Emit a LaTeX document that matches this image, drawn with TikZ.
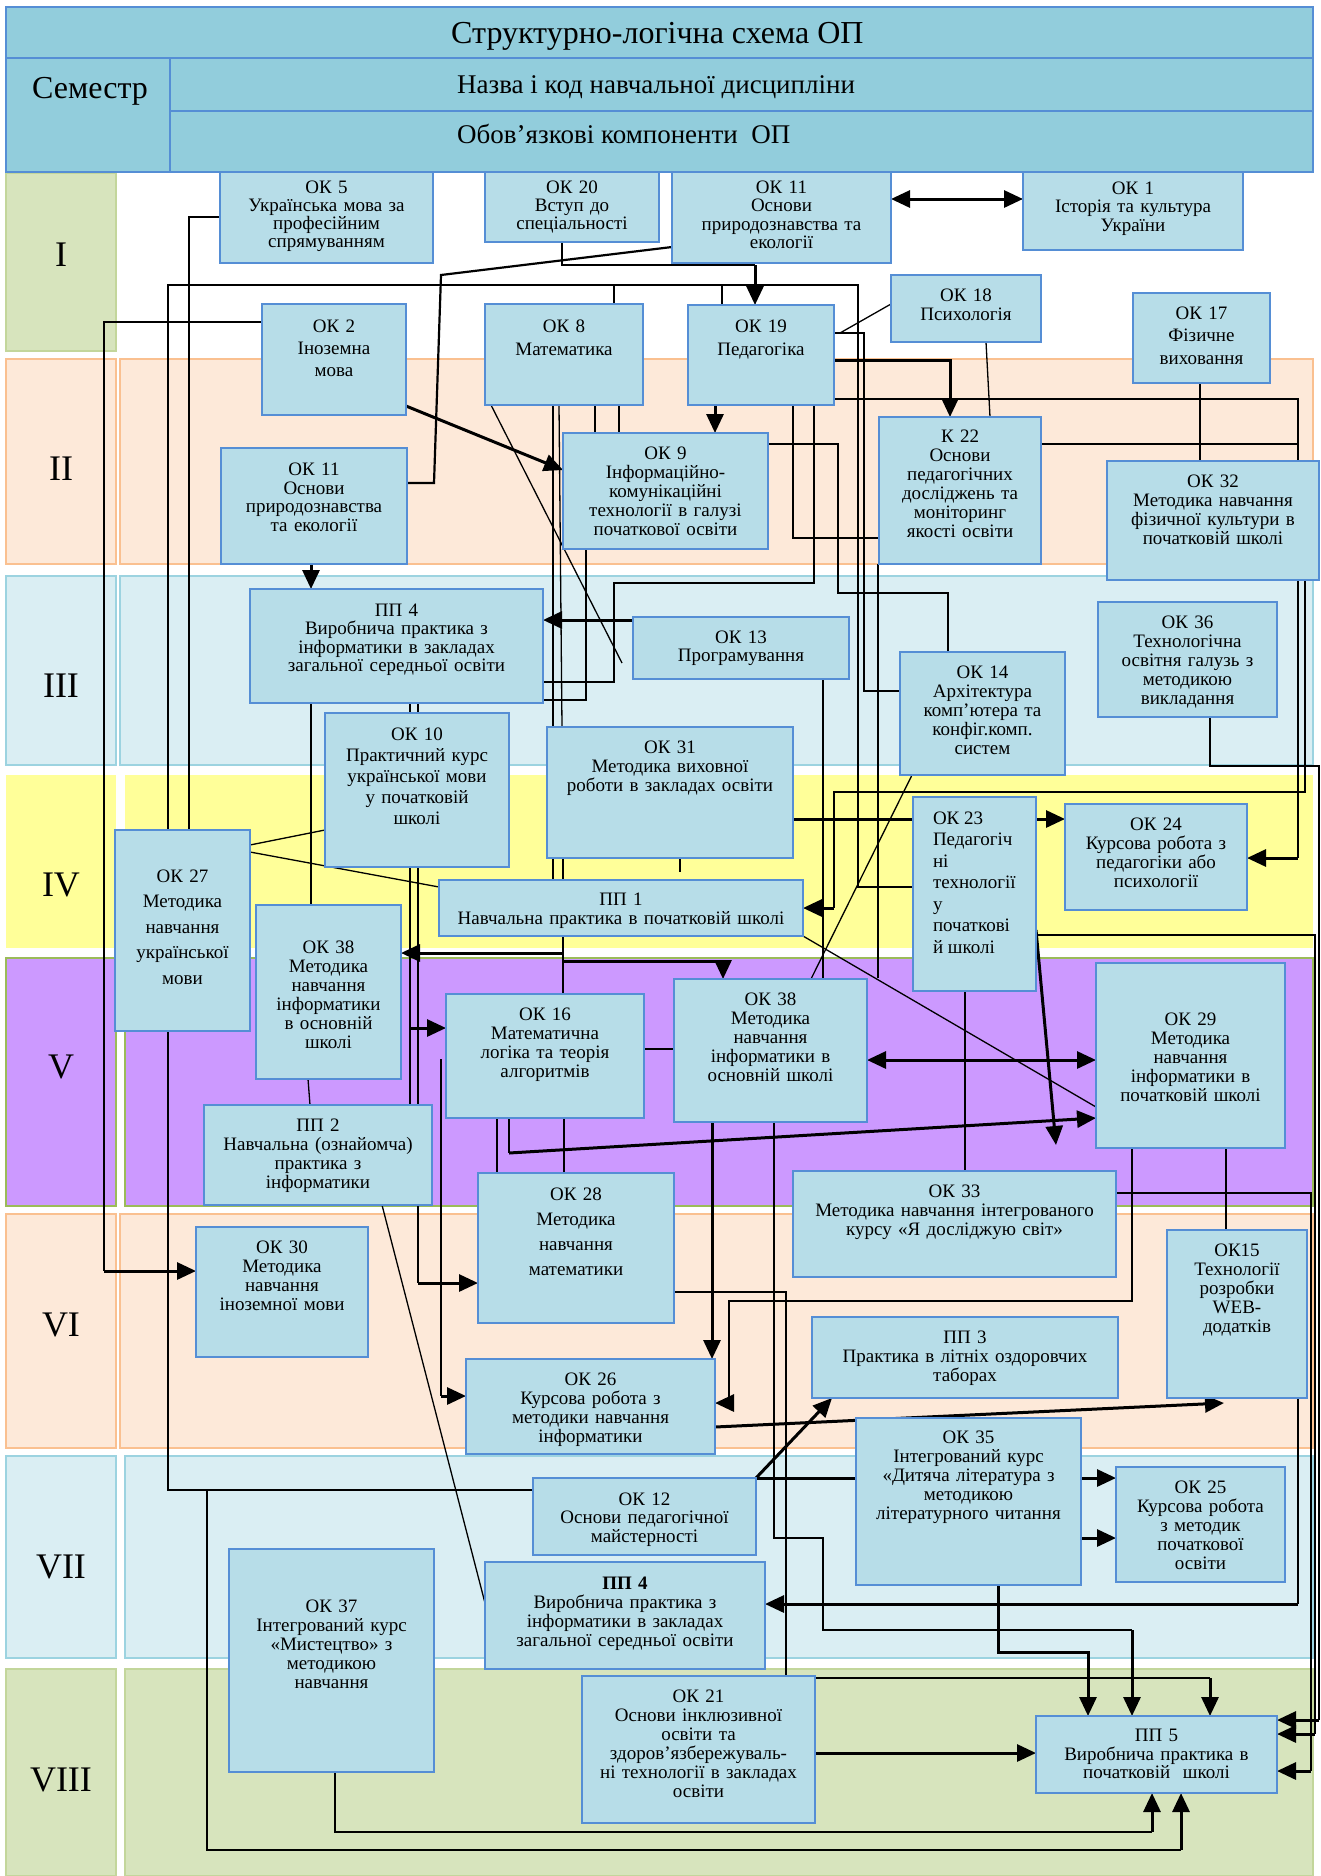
\documentclass[tikz,border=0pt]{standalone}
\usepackage{fontspec}
\setmainfont{Liberation Serif}
\usetikzlibrary{arrows.meta,calc}
\pgfdeclarelayer{bg}
\pgfdeclarelayer{lines}
\pgfsetlayers{bg,lines,main}
\definecolor{hdr}{HTML}{92CDDC}
\definecolor{bxfill}{HTML}{B7DDE8}
\definecolor{bxline}{HTML}{558ED5}
\definecolor{bgreen}{HTML}{D7E4BD}
\definecolor{bgreenb}{HTML}{C3D69B}
\definecolor{peach}{HTML}{FDE9D9}
\definecolor{peachb}{HTML}{FAC090}
\definecolor{lblue}{HTML}{DAEEF3}
\definecolor{lblueb}{HTML}{9CD3E0}
\definecolor{yel}{HTML}{FFFF99}
\definecolor{purp}{HTML}{CC99FF}
\definecolor{purpb}{HTML}{9BBB59}
\tikzset{
  okb/.style={draw=bxline,fill=bxfill,line width=1.8pt,inner sep=0pt,outer sep=0pt,rectangle},
  okt/.style={inner sep=0pt,outer sep=0pt,align=center},
  ln/.style={line width=1.3pt,draw=black},
  md/.style={line width=2.2pt,draw=black},
  tk/.style={line width=3pt,draw=black},
  arr/.style={-{Triangle[length=19pt,width=17pt]}},
  darr/.style={{Triangle[length=19pt,width=17pt]}-{Triangle[length=19pt,width=17pt]}},
  hdrbox/.style={draw=bxline,fill=hdr,line width=2pt},
  roman/.style={inner sep=0pt,font=\fontsize{36}{36}\selectfont,anchor=base}
}
\newcommand\okbox[8]{%
  \pgfmathsetmacro\okbw{#4-#2}%
  \pgfmathsetmacro\okbh{#5-#3}%
  \pgfmathsetmacro\oktw{#4-#2-8}%
  \pgfmathsetmacro\okcx{(#2+#4)/2}%
  \pgfmathsetmacro\okcy{(#3+#5)/2}%
  \node[okb,minimum width=\okbw pt,minimum height=\okbh pt] (#1) at (\okcx,\okcy) {};
  \node[okt,text width=\oktw pt,anchor=north,font=\fontsize{19}{#7}\selectfont] (#1-t) at (\okcx,#6) {#8};
}
\begin{document}
\begin{tikzpicture}[x=1pt,y=-1pt]
\useasboundingbox (0,0) rectangle (1320,1876);
\begin{pgfonlayer}{bg}
\fill[white] (0,0) rectangle (1320,1876);
\filldraw[fill=bgreen,draw=bgreenb,line width=1.2pt] (6,173) rectangle (116,351);
\filldraw[fill=peach,draw=peachb,line width=1.2pt] (6,359) rectangle (116,564);
\filldraw[fill=peach,draw=peachb,line width=1.2pt] (120,359) rectangle (1313,564);
\filldraw[fill=lblue,draw=lblueb,line width=1.2pt] (6,576) rectangle (116,765);
\filldraw[fill=lblue,draw=lblueb,line width=1.2pt] (120,576) rectangle (1313,765);
\fill[yel] (6,775) rectangle (116,948);
\fill[yel] (125,775) rectangle (1313,948);
\filldraw[fill=purp,draw=purpb,line width=1.2pt] (6,958) rectangle (116,1206);
\filldraw[fill=purp,draw=purpb,line width=1.2pt] (125,958) rectangle (1313,1206);
\filldraw[fill=peach,draw=peachb,line width=1.2pt] (6,1214) rectangle (116,1448);
\filldraw[fill=peach,draw=peachb,line width=1.2pt] (120,1214) rectangle (1313,1448);
\filldraw[fill=lblue,draw=lblueb,line width=1.2pt] (6,1456) rectangle (116,1658);
\filldraw[fill=lblue,draw=lblueb,line width=1.2pt] (125,1456) rectangle (1313,1658);
\filldraw[fill=bgreen,draw=bgreenb,line width=1.2pt] (6,1669) rectangle (116,1876);
\filldraw[fill=bgreen,draw=bgreenb,line width=1.2pt] (125,1669) rectangle (1313,1876);
\end{pgfonlayer}

% header
\filldraw[hdrbox] (6,7) rectangle (1313,58);
\filldraw[hdrbox] (6,58) rectangle (170,172);
\filldraw[hdrbox] (170,58) rectangle (1313,111);
\filldraw[hdrbox] (170,111) rectangle (1313,172);
\node[inner sep=0pt,anchor=base west,font=\fontsize{32}{32}\selectfont] (title) at (451,44) {Структурно-логічна схема ОП};
\node[inner sep=0pt,anchor=base west,font=\fontsize{32}{32}\selectfont] (sem) at (32,99) {Семестр};
\node[inner sep=0pt,anchor=base west,font=\fontsize{27}{27}\selectfont] (nazva) at (457,93) {Назва і код навчальної дисципліни};
\node[inner sep=0pt,anchor=base west,font=\fontsize{27}{27}\selectfont] (obov) at (457,143) {Обов’язкові компоненти~~ОП};

% semester numerals
\node[roman] (s1) at (61,266) {I};
\node[roman] (s2) at (61,480) {II};
\node[roman] (s3) at (61,697) {III};
\node[roman] (s4) at (61,896) {IV};
\node[roman] (s5) at (61,1078) {V};
\node[roman] (s6) at (61,1336) {VI};
\node[roman] (s7) at (61,1578) {VII};
\node[roman] (s8) at (61,1791) {VIII};

% boxes
\okbox{ok5}{220}{172}{433}{263}{180.5}{18.3}{ОК 5\\Українська мова за\\професійним\\спрямуванням}
\okbox{ok20}{485}{172}{659}{242}{180.5}{18.3}{ОК 20\\Вступ до\\спеціальності}
\okbox{ok11a}{672}{172}{891}{263}{180.5}{18.5}{ОК 11\\Основи\\природознавства та\\екології}
\okbox{ok1}{1023}{172}{1243}{250}{181.5}{18.5}{ОК 1\\Історія та культура\\України}
\okbox{ok18}{891}{275}{1041}{342}{288.5}{19}{ОК 18\\Психологія}
\okbox{ok17}{1133}{293}{1270}{383}{306.5}{22.5}{ОК 17\\Фізичне\\виховання}
\okbox{ok2}{262}{304}{406}{415}{319.5}{22}{ОК 2\\Іноземна\\мова}
\okbox{ok8}{485}{304}{643}{405}{319.5}{23}{ОК 8\\Математика}
\okbox{ok19}{688}{305}{834}{405}{319.5}{23}{ОК 19\\Педагогіка}
\okbox{ok9}{563}{433}{768}{549}{446.5}{19}{ОК 9\\Інформаційно-\\комунікаційні\\технології в галузі\\початкової освіти}
\okbox{k22}{879}{417}{1041}{564}{429.5}{19}{К 22\\Основи\\педагогічних\\досліджень та\\моніторинг\\якості освіти}
\okbox{ok32}{1107}{461}{1319}{580}{474.5}{19}{ОК 32\\Методика навчання\\фізичної культури в\\початковій школі}
\okbox{ok11b}{221}{448}{407}{564}{463}{18.5}{ОК 11\\Основи\\природознавства\\та екології}
\okbox{pp4a}{250}{589}{543}{703}{603.5}{18.5}{ПП 4\\Виробнича практика з\\інформатики в закладах\\загальної середньої освіти}
\okbox{ok13}{633}{617}{849}{679}{630.5}{18.3}{ОК 13\\Програмування}
\okbox{ok14}{900}{652}{1065}{775}{665.5}{19}{ОК 14\\Архітектура\\комп’ютера та\\конфіг.комп.\\систем}
\okbox{ok36}{1098}{602}{1277}{717}{615.5}{19}{ОК 36\\Технологічна\\освітня галузь з\\методикою\\викладання}
\okbox{ok10}{325}{713}{509}{867}{727.5}{21}{ОК 10\\Практичний курс\\української мови\\у початковій\\школі}
\okbox{ok31}{547}{727}{793}{858}{740.5}{19}{ОК 31\\Методика виховної\\роботи в закладах освіти}
\node[okb,minimum width=123pt,minimum height=194pt] (ok23) at (974.5,894) {};
\node[okt,align=left,anchor=north west,font=\fontsize{19}{21.5}\selectfont] (ok23-t) at (933,811.5) {ОК 23\\Педагогіч\\ні\\технології\\у\\початкові\\й школі};
\okbox{ok24}{1065}{804}{1247}{910}{817.5}{19}{ОК 24\\Курсова робота з\\педагогіки або\\психології}
\okbox{ok27}{115}{830}{250}{1031}{869.5}{25.5}{ОК 27\\Методика\\навчання\\української\\мови}
\okbox{pp1}{439}{880}{803}{936}{892.5}{19.3}{ПП 1\\Навчальна практика в початковій школі}
\okbox{ok38a}{256}{905}{401}{1079}{940.5}{19}{ОК 38\\Методика\\навчання\\інформатики\\в основній\\школі}
\okbox{ok16}{446}{994}{644}{1118}{1007.5}{19}{ОК 16\\Математична\\логіка та теорія\\алгоритмів}
\okbox{ok38b}{674}{979}{867}{1122}{992.5}{19}{ОК 38\\Методика\\навчання\\інформатики в\\основній школі}
\okbox{ok29}{1096}{963}{1285}{1148}{1012.5}{19}{ОК 29\\Методика\\навчання\\інформатики в\\початковій школі}
\okbox{pp2}{204}{1105}{432}{1205}{1118.5}{19}{ПП 2\\Навчальна (ознайомча)\\практика з\\інформатики}
\okbox{ok28}{478}{1173}{674}{1323}{1187.5}{25}{ОК 28\\Методика\\навчання\\математики}
\okbox{ok33}{793}{1171}{1116}{1277}{1184.5}{19}{ОК 33\\Методика навчання інтегрованого\\курсу «Я досліджую світ»}
\okbox{ok30}{196}{1227}{368}{1357}{1240.5}{19}{ОК 30\\Методика\\навчання\\іноземної мови}
\okbox{ok15}{1167}{1230}{1307}{1398}{1243.5}{19}{ОК15\\Технології\\розробки\\WEB-\\додатків}
\okbox{pp3}{812}{1317}{1118}{1398}{1330.5}{19}{ПП 3\\Практика в літніх оздоровчих\\таборах}
\okbox{ok26}{466}{1359}{715}{1454}{1372.5}{19}{ОК 26\\Курсова робота з\\методики навчання\\інформатики}
\okbox{ok35}{856}{1418}{1081}{1585}{1430.5}{19}{ОК 35\\Інтегрований курс\\«Дитяча література з\\методикою\\літературного читання}
\okbox{ok12}{533}{1478}{756}{1555}{1492.5}{18.5}{ОК 12\\Основи педагогічної\\майстерності}
\okbox{ok25}{1116}{1467}{1285}{1582}{1480.5}{19}{ОК 25\\Курсова робота\\з методик\\початкової\\освіти}
\okbox{ok37}{229}{1549}{434}{1772}{1599.5}{19}{ОК 37\\Інтегрований курс\\«Мистецтво» з\\методикою\\навчання}
\okbox{pp4b}{485}{1562}{765}{1669}{1576.5}{19}{\textbf{ПП 4}\\Виробнича практика з\\інформатики в закладах\\загальної середньої освіти}
\okbox{ok21}{582}{1676}{815}{1823}{1689.5}{19}{ОК 21\\Основи інклюзивної\\освіти та\\здоров'язбережуваль-\\ні технології в закладах\\освіти}
\okbox{pp5}{1036}{1716}{1277}{1793}{1729.5}{18.5}{ПП 5\\Виробнича практика в\\початковій~~школі}

% connectors
\begin{pgfonlayer}{lines}
\draw[ln] (ok5.west |- 0,217) -- (189,217) -- (189,0 |- ok27.north);
\draw[ln] (168,0 |- ok27.north) -- (168,285) -- (858,285) -- (858,887) -- (ok23.west |- 0,887);
\draw[ln] (614,285) -- (614,0 |- ok8.north);
\draw[ln] (722,285) -- (722,0 |- ok19.north);
\draw[md] (562,0 |- ok20.south) -- (562,265) -- (755,265);
\draw[tk,arr] (755,265) -- (755,0 |- ok19.north);
\draw[md] (ok11a.west |- 0,247) -- (441,275) -- (434,483) -- (ok11b.east |- 0,483);
\draw[tk,darr] (ok11a.east |- 0,199) -- (ok1.west |- 0,199);
\draw[ln] (ok18.west |- 0,304) -- (840,333);
\draw[ln] (ok19.east |- 0,333) -- (864,333) -- (864,691) -- (ok14.west |- 0,691);
\draw[tk,arr] (715,0 |- ok19.south) -- (715,0 |- ok9.north);
\draw[tk,arr] (ok19.east |- 0,360) -- (950,360) -- (950,0 |- k22.north);
\draw[ln] (ok19.east |- 0,399) -- (1298,399) -- (1298,858);
\draw[tk,arr] (1298,858) -- (ok24.east |- 0,858);
\draw[ln] (k22.east |- 0,444) -- (1298,444);
\draw[ln] (1200,0 |- ok17.south) -- (1200,0 |- ok32.north);
\draw[ln] (986,0 |- ok18.south) -- (990,0 |- k22.north);
\draw[tk,arr] (ok2.east |- 0,406) -- (ok9.west |- 0,470);
\draw[ln] (ok2.west |- 0,322) -- (104,322) -- (104,1271);
\draw[tk,arr] (104,1271) -- (ok30.west |- 0,1271);
\draw[ln] (491,0 |- ok8.south) -- (622,663);
\draw[md] (553,0 |- ok8.south) -- (553,0 |- ok31.north);
\draw[ln] (559,0 |- ok8.south) -- (562,0 |- ok31.north);
\draw[ln] (595,0 |- ok8.south) -- (595,0 |- ok9.north);
\draw[ln] (619,0 |- ok8.south) -- (619,0 |- ok9.north);
\draw[ln] (793,0 |- ok19.south) -- (793,538) -- (k22.west |- 0,538);
\draw[ln] (814,0 |- ok19.south) -- (814,583) -- (614,583) -- (614,682) -- (pp4a.east |- 0,682);
\draw[ln] (ok9.east |- 0,444) -- (838,444) -- (838,593) -- (948,593) -- (948,0 |- ok14.north);
\draw[ln] (586,0 |- ok9.south) -- (586,700) -- (pp4a.east |- 0,700);
\draw[tk,arr] (ok13.west |- 0,620) -- (pp4a.east |- 0,620);
\draw[ln] (823,0 |- ok13.south) -- (823,0 |- ok38b.north);
\draw[ln] (912,0 |- ok14.south) -- (811,0 |- ok38b.north);
\draw[tk,arr] (ok31.east |- 0,819) -- (ok24.west |- 0,819);
\draw[ln] (1305,0 |- ok32.south) -- (1305,792) -- (834,792) -- (834,908);
\draw[tk,arr] (834,908) -- (pp1.east |- 0,908);
\draw[ln] (1210,0 |- ok36.south) -- (1210,766) -- (1319,766) -- (1319,1720);
\draw[tk,arr] (1319,1720) -- (pp5.east |- 0,1720);
\draw[ln] (ok23.east |- 0,935) -- (1315,935) -- (1315,1734);
\draw[tk,arr] (1315,1734) -- (pp5.east |- 0,1734);
\draw[ln] (ok33.east |- 0,1193) -- (1311,1193) -- (1311,1771);
\draw[tk,arr] (1311,1771) -- (pp5.east |- 0,1771);
\draw[md] (1298,0 |- ok15.south) -- (1298,1604);
\draw[tk,arr] (1298,1604) -- (pp4b.east |- 0,1604);
\draw[ln] (ok27.east |- 0,845) -- (ok10.west |- 0,830);
\draw[ln] (ok27.east |- 0,852) -- (pp1.west |- 0,887);
\draw[ln] (168,0 |- ok27.south) -- (168,1490) -- (ok12.west |- 0,1490);
\draw[ln] (207,1490) -- (207,1850) -- (1181,1850);
\draw[tk,arr] (1181,1850) -- (1181,0 |- pp5.south);
\draw[ln] (335,0 |- ok37.south) -- (335,1832) -- (1152,1832);
\draw[tk,arr] (1152,1832) -- (1152,0 |- pp5.south);
\draw[tk,arr] (311,0 |- ok11b.south) -- (311,0 |- pp4a.north);
\draw[ln] (311,0 |- pp4a.south) -- (311,0 |- ok38a.north);
\draw[ln] (410,0 |- pp4a.south) -- (410,0 |- pp2.north);
\draw[tk,arr] (410,1028) -- (ok16.west |- 0,1028);
\draw[ln] (418,0 |- pp4a.south) -- (418,1283);
\draw[tk,arr] (418,1283) -- (ok28.west |- 0,1283);
\draw[ln] (308,0 |- ok38a.south) -- (310,0 |- pp2.north);
\draw[ln] (441,1059) -- (441,1396);
\draw[tk,arr] (441,1396) -- (ok26.west |- 0,1396);
\draw[ln] (382,0 |- pp2.south) -- (pp4b.west |- 0,1603);
\draw[ln] (497,0 |- ok16.south) -- (497,0 |- ok28.north);
\draw[ln] (564,0 |- ok16.south) -- (564,0 |- ok28.north);
\draw[md] (509,0 |- ok16.south) -- (509,1153);
\draw[tk,arr] (509,1153) -- (ok29.west |- 0,1118);
\draw[ln] (ok16.east |- 0,1049) -- (ok38b.west |- 0,1049);
\draw[tk,darr] (ok38b.east |- 0,1060) -- (ok29.west |- 0,1060);
\draw[tk,arr] (ok23.east |- 0,930) -- (1056,1145);
\draw[ln] (965,0 |- ok23.south) -- (965,0 |- ok33.north);
\draw[ln] (pp1.south east) -- (ok29.west |- 0,1107);
\draw[tk,arr] (712,0 |- ok38b.south) -- (712,0 |- ok26.north);
\draw[ln] (774,0 |- ok38b.south) -- (774,1538) -- (823,1538) -- (823,1630) -- (1132,1630);
\draw[tk,arr] (1132,1630) -- (1132,0 |- pp5.north);
\draw[ln] (ok28.east |- 0,1292) -- (786,1292) -- (786,0 |- ok21.north);
\draw[ln] (1132,0 |- ok29.south) -- (1132,1301) -- (729,1301) -- (729,1403);
\draw[tk,arr] (729,1403) -- (ok26.east |- 0,1403);
\draw[ln] (1226,0 |- ok29.south) -- (1226,0 |- ok15.north);
\draw[tk,arr] (ok26.east |- 0,1427) -- (1224,1403);
\draw[tk,arr] (ok12.north east) -- (832,0 |- pp3.south);
\draw[tk] (ok12.north east) -- (ok35.west |- 0,1478);
\draw[tk,arr] (ok35.east |- 0,1478) -- (ok25.west |- 0,1478);
\draw[tk,arr] (ok35.east |- 0,1538) -- (ok25.west |- 0,1538);
\draw[tk,arr] (998,0 |- ok35.south) -- (998,1652) -- (1088,1652) -- (1088,0 |- pp5.north);
\draw[ln] (ok21.east |- 0,1678) -- (1210,1678);
\draw[tk,arr] (1210,1678) -- (1210,0 |- pp5.north);
\draw[tk,arr] (ok21.east |- 0,1753) -- (pp5.west |- 0,1753);
\draw[ln] (553,0 |- ok31.south) -- (553,0 |- pp1.north);
\draw[ln] (563,0 |- ok31.south) -- (563,0 |- pp1.north);
\draw[ln] (680,0 |- ok31.south) -- (680,872);
\draw[ln] (563,0 |- pp1.south) -- (563,0 |- ok16.north);
\draw[tk,arr] (563,953) -- (ok38a.east |- 0,953);
\draw[tk,arr] (563,961) -- (723,961) -- (723,0 |- ok38b.north);
\draw[ln] (878,0 |- k22.south) -- (878,978);
\end{pgfonlayer}
\end{tikzpicture}
\end{document}
